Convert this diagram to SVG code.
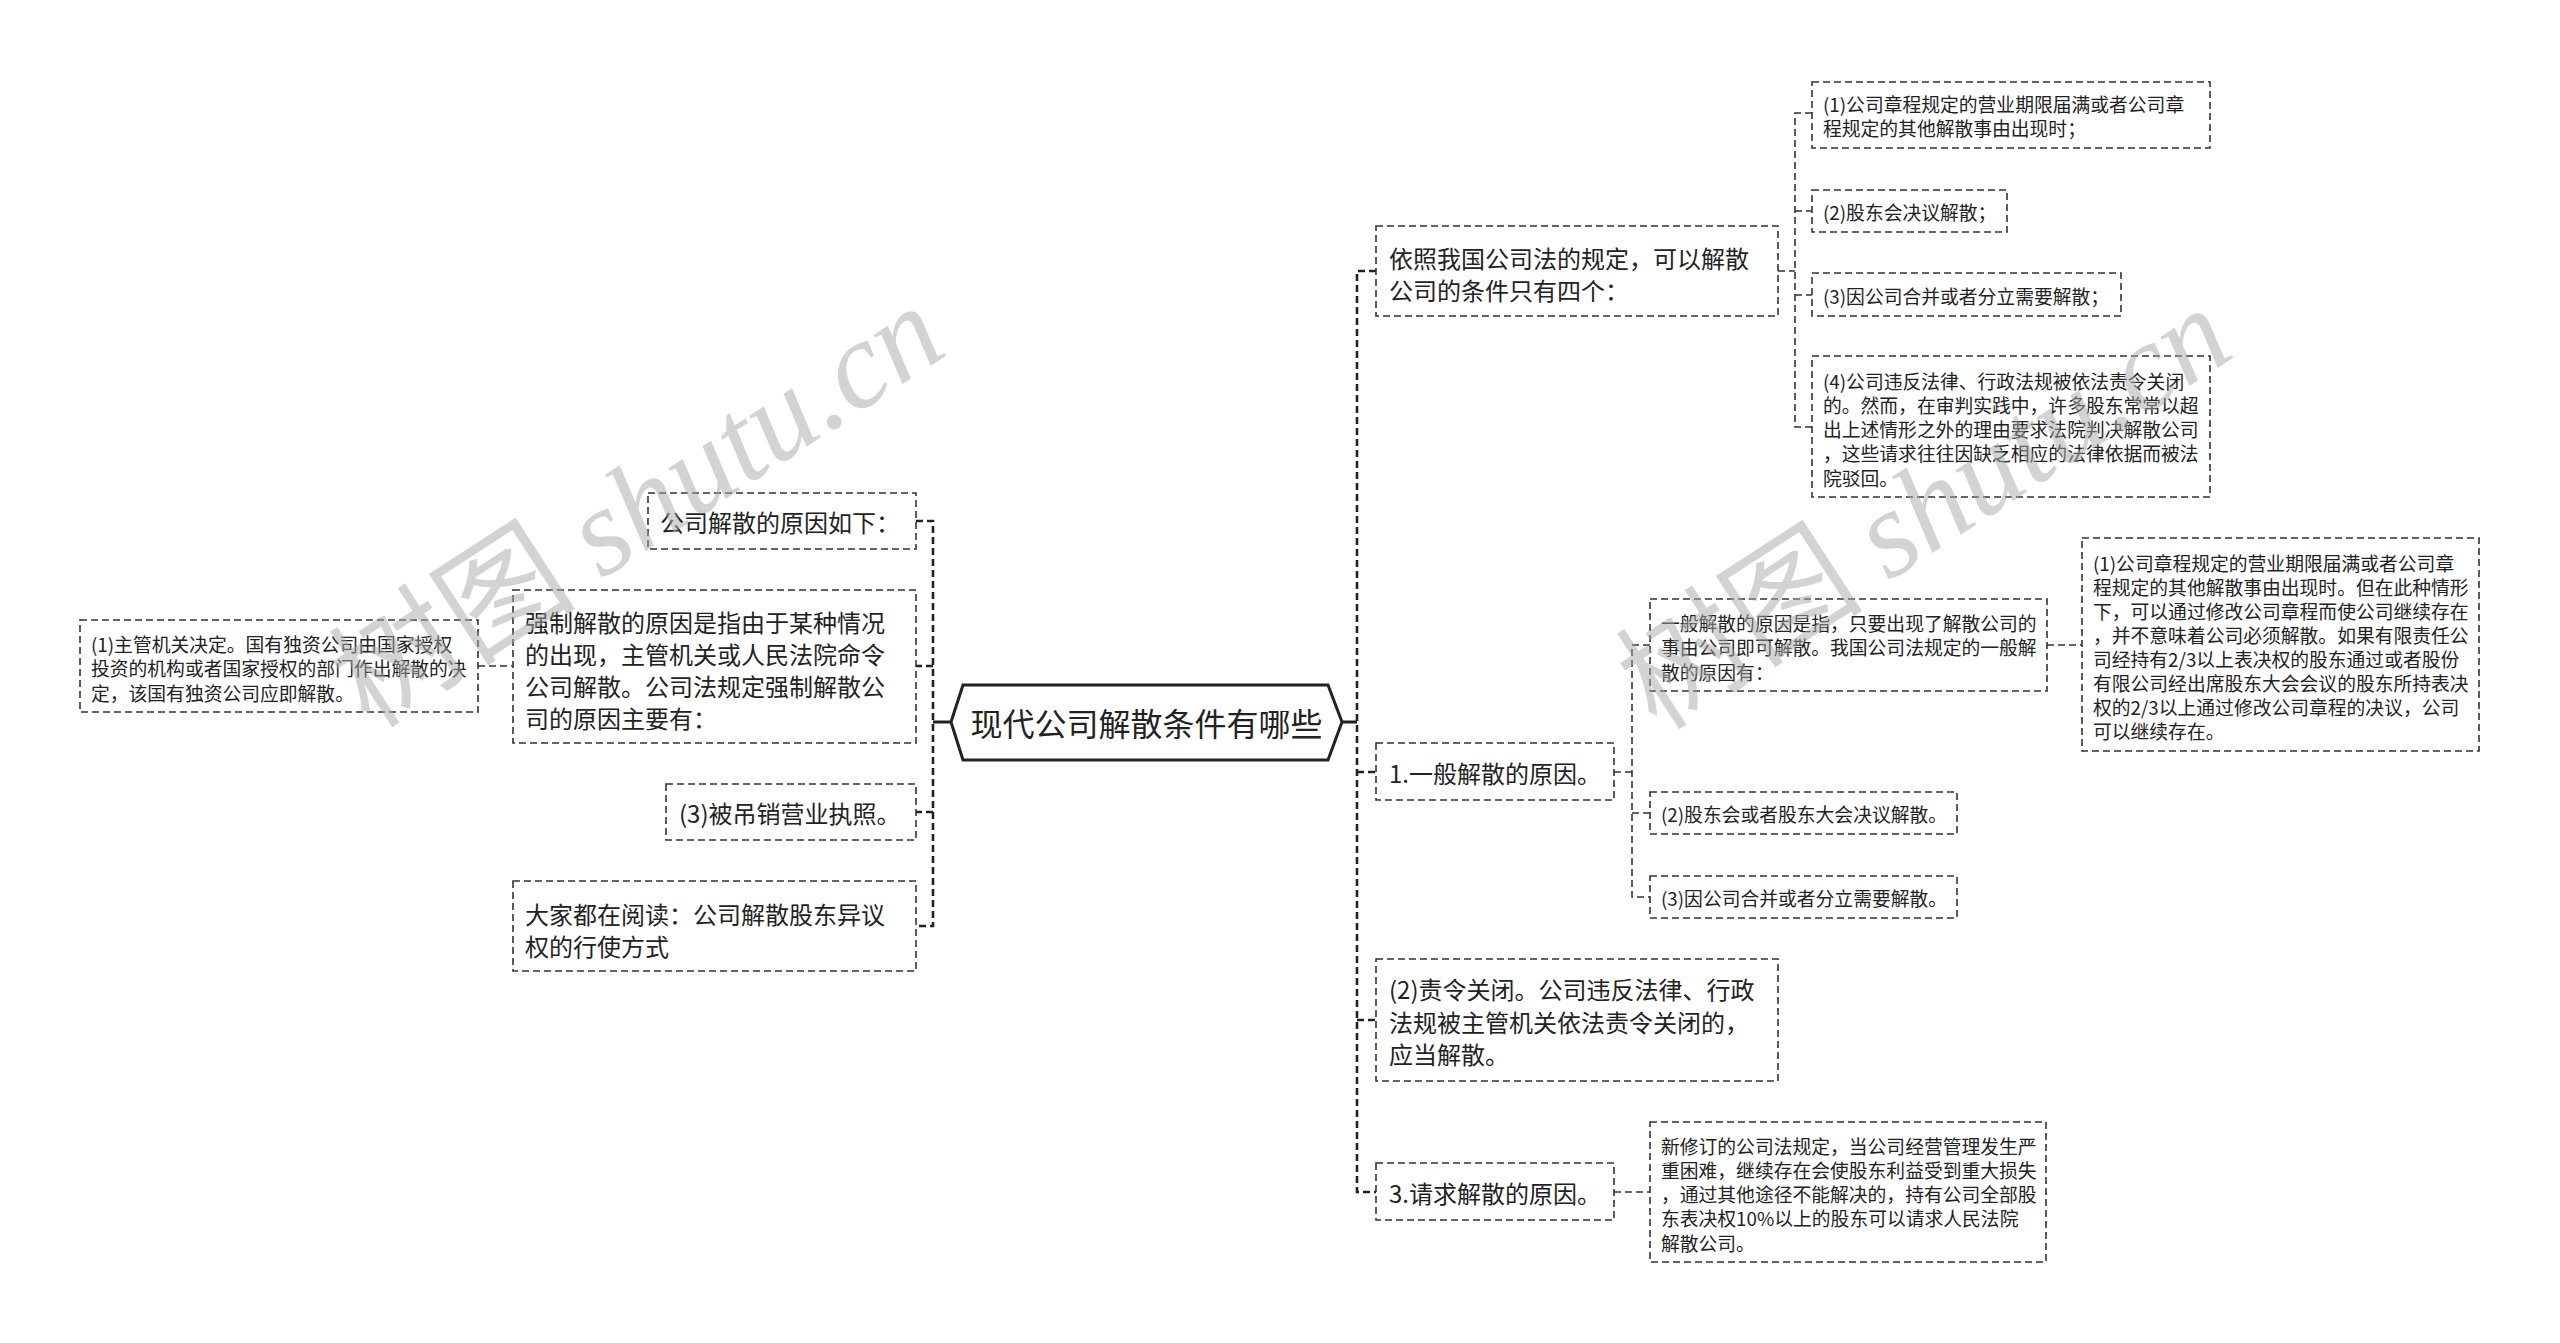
<svg xmlns="http://www.w3.org/2000/svg" width="2560" height="1343" viewBox="0 0 2560 1343">
<style>
.box{fill:none;stroke:#333;stroke-width:1.6;stroke-dasharray:7 4}
.t{font-family:'Noto Sans CJK SC','Noto Sans',sans-serif;fill:#222;dominant-baseline:central}
.b{font-size:24px}
.s{font-size:18.8px}
.trunk{fill:none;stroke:#222;stroke-width:2.6;stroke-dasharray:7 4}
.c{fill:none;stroke:#333;stroke-width:1.6;stroke-dasharray:7 4}
.solid{fill:none;stroke:#222;stroke-width:3}
.wm{font-family:'Noto Sans CJK SC',sans-serif;font-size:124px;fill:#a8a8a8;fill-opacity:0.5}
.wm tspan{font-family:'Liberation Serif',serif;font-style:italic}
</style>
<rect width="2560" height="1343" fill="#fff"/>
<g id="connectors">
  <path class="solid" d="M951,722 H933 M1342,722 H1357"/>
  <path class="trunk" d="M916,521 H933 V926 H916 M933,666 H916 M933,812 H916"/>
  <path class="c" d="M478,666 H513"/>
  <path class="trunk" d="M1376,271 H1357 V1192 H1376 M1357,772 H1376 M1357,1020 H1376"/>
  <path class="c" d="M1778,271 H1795 M1812,113 H1795 V427 H1812 M1795,211 H1812 M1795,295 H1812"/>
  <path class="c" d="M1614,772 H1632 M1650,645 H1632 V897 H1650 M1632,813 H1650"/>
  <path class="c" d="M2047,645 H2082"/>
  <path class="c" d="M1614,1192 H1650"/>
</g>
<g id="root">
  <polygon points="951,722 963,685 1328,685 1342,722 1328,760 963,760" fill="#fff" stroke="#222" stroke-width="3"/>
  <text class="t" x="1146.5" y="722" font-size="32" text-anchor="middle">现代公司解散条件有哪些</text>
</g>
<g id="n-l1">
  <rect class="box" x="648" y="493" width="268" height="56"/>
  <text class="t b" x="660" y="521">公司解散的原因如下：</text>
</g>
<g id="n-l2">
  <rect class="box" x="513" y="590" width="403" height="153"/>
  <text class="t b" x="525" y="621">强制解散的原因是指由于某种情况</text>
  <text class="t b" x="525" y="653">的出现，主管机关或人民法院命令</text>
  <text class="t b" x="525" y="685">公司解散。公司法规定强制解散公</text>
  <text class="t b" x="525" y="717">司的原因主要有：</text>
</g>
<g id="n-l2a">
  <rect class="box" x="80" y="620" width="398" height="92"/>
  <text class="t s" x="91" y="643">(1)主管机关决定。国有独资公司由国家授权</text>
  <text class="t s" x="91" y="667.5">投资的机构或者国家授权的部门作出解散的决</text>
  <text class="t s" x="91" y="692">定，该国有独资公司应即解散。</text>
</g>
<g id="n-l3">
  <rect class="box" x="666" y="784" width="250" height="56"/>
  <text class="t b" x="679" y="812">(3)被吊销营业执照。</text>
</g>
<g id="n-l4">
  <rect class="box" x="513" y="881" width="403" height="90"/>
  <text class="t b" x="525" y="913">大家都在阅读：公司解散股东异议</text>
  <text class="t b" x="525" y="945">权的行使方式</text>
</g>
<g id="n-r1">
  <rect class="box" x="1376" y="226" width="402" height="90"/>
  <text class="t b" x="1389" y="257">依照我国公司法的规定，可以解散</text>
  <text class="t b" x="1389" y="289">公司的条件只有四个：</text>
</g>
<g id="n-r1a">
  <rect class="box" x="1812" y="82" width="398" height="66"/>
  <text class="t s" x="1823" y="103">(1)公司章程规定的营业期限届满或者公司章</text>
  <text class="t s" x="1823" y="127">程规定的其他解散事由出现时；</text>
</g>
<g id="n-r1b">
  <rect class="box" x="1812" y="190" width="195" height="42"/>
  <text class="t s" x="1823" y="211">(2)股东会决议解散；</text>
</g>
<g id="n-r1c">
  <rect class="box" x="1812" y="273" width="309" height="43"/>
  <text class="t s" x="1823" y="295">(3)因公司合并或者分立需要解散；</text>
</g>
<g id="n-r1d">
  <rect class="box" x="1812" y="356" width="398" height="141"/>
  <text class="t s" x="1823" y="380">(4)公司违反法律、行政法规被依法责令关闭</text>
  <text class="t s" x="1823" y="404">的。然而，在审判实践中，许多股东常常以超</text>
  <text class="t s" x="1823" y="428">出上述情形之外的理由要求法院判决解散公司</text>
  <text class="t s" x="1823" y="452.5">，这些请求往往因缺乏相应的法律依据而被法</text>
  <text class="t s" x="1823" y="477">院驳回。</text>
</g>
<g id="n-r2">
  <rect class="box" x="1376" y="743" width="238" height="57"/>
  <text class="t b" x="1389" y="772">1.一般解散的原因。</text>
</g>
<g id="n-r2a">
  <rect class="box" x="1650" y="599" width="397" height="92"/>
  <text class="t s" x="1661" y="622">一般解散的原因是指，只要出现了解散公司的</text>
  <text class="t s" x="1661" y="646">事由公司即可解散。我国公司法规定的一般解</text>
  <text class="t s" x="1661" y="671">散的原因有：</text>
</g>
<g id="n-r2a1">
  <rect class="box" x="2082" y="538" width="397" height="213"/>
  <text class="t s" x="2093" y="562">(1)公司章程规定的营业期限届满或者公司章</text>
  <text class="t s" x="2093" y="586">程规定的其他解散事由出现时。但在此种情形</text>
  <text class="t s" x="2093" y="610">下，可以通过修改公司章程而使公司继续存在</text>
  <text class="t s" x="2093" y="634">，并不意味着公司必须解散。如果有限责任公</text>
  <text class="t s" x="2093" y="658">司经持有2/3以上表决权的股东通过或者股份</text>
  <text class="t s" x="2093" y="682">有限公司经出席股东大会会议的股东所持表决</text>
  <text class="t s" x="2093" y="706">权的2/3以上通过修改公司章程的决议，公司</text>
  <text class="t s" x="2093" y="730">可以继续存在。</text>
</g>
<g id="n-r2b">
  <rect class="box" x="1650" y="792" width="307" height="42"/>
  <text class="t s" x="1661" y="813">(2)股东会或者股东大会决议解散。</text>
</g>
<g id="n-r2c">
  <rect class="box" x="1650" y="876" width="307" height="42"/>
  <text class="t s" x="1661" y="897">(3)因公司合并或者分立需要解散。</text>
</g>
<g id="n-r3">
  <rect class="box" x="1376" y="959" width="402" height="122"/>
  <text class="t b" x="1389" y="988">(2)责令关闭。公司违反法律、行政</text>
  <text class="t b" x="1389" y="1021">法规被主管机关依法责令关闭的，</text>
  <text class="t b" x="1389" y="1053">应当解散。</text>
</g>
<g id="n-r4">
  <rect class="box" x="1376" y="1163" width="238" height="57"/>
  <text class="t b" x="1389" y="1192">3.请求解散的原因。</text>
</g>
<g id="n-r4a">
  <rect class="box" x="1650" y="1122" width="396" height="140"/>
  <text class="t s" x="1661" y="1145">新修订的公司法规定，当公司经营管理发生严</text>
  <text class="t s" x="1661" y="1169">重困难，继续存在会使股东利益受到重大损失</text>
  <text class="t s" x="1661" y="1193">，通过其他途径不能解决的，持有公司全部股</text>
  <text class="t s" x="1661" y="1217">东表决权10%以上的股东可以请求人民法院</text>
  <text class="t s" x="1661" y="1242">解散公司。</text>
</g>
<g id="watermark">
  <text class="wm" transform="translate(370,730) rotate(-33)">树图 <tspan>shutu.cn</tspan></text>
  <text class="wm" transform="translate(1657,732) rotate(-33)">树图 <tspan>shutu.cn</tspan></text>
</g>
</svg>
